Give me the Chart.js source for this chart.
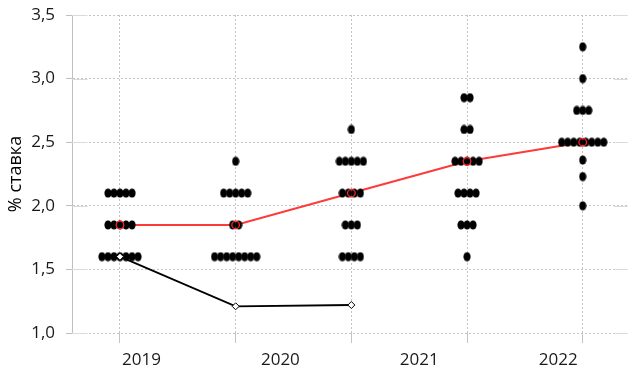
<!DOCTYPE html>
<html>
<head>
<meta charset="utf-8">
<script src="https://cdn.jsdelivr.net/npm/chart.js@4.4.1/dist/chart.umd.min.js"></script>
<style>
  body { margin: 0; background: #fff; }
</style>
</head>
<body>
<canvas id="dotPlot" width="633" height="377"></canvas>
<script>
// categories shown under the axis
const years = ['2019', '2020', '2021', '2022'];
// x positions of the dot columns
const columns = [1, 2, 3, 4, 5];
// rate levels and number of dots per level, one list per column
const dotRates = [
  [2.1, 1.85, 1.6],
  [2.35, 2.1, 1.85, 1.6],
  [2.6, 2.35, 2.1, 1.85, 1.6],
  [2.85, 2.6, 2.35, 2.1, 1.85, 1.6],
  [3.25, 3.0, 2.75, 2.5, 2.36, 2.23, 2.0]
];
const dotCounts = [
  [5, 5, 7],
  [1, 5, 2, 8],
  [1, 5, 4, 3, 4],
  [2, 2, 5, 4, 3, 1],
  [1, 1, 3, 8, 1, 1, 1]
];
// median line (red) and market line (black)
const medianRates = [1.85, 1.85, 2.1, 2.35, 2.5];
const marketRates = [1.6, 1.21, 1.22];

const dotGap = 0.052; // horizontal spread between dots on one level

const dots = [];
columns.forEach((c, i) => {
  dotRates[i].forEach((r, j) => {
    const n = dotCounts[i][j];
    for (let k = 0; k < n; k++) {
      dots.push({ x: c + (k - (n - 1) / 2) * dotGap, y: r });
    }
  });
});

// slightly tall black dot
function makeDot() {
  const c = document.createElement('canvas');
  c.width = 8; c.height = 10;
  const g = c.getContext('2d');
  g.fillStyle = '#000';
  g.beginPath();
  g.ellipse(4, 5, 3.6, 4.6, 0, 0, Math.PI * 2);
  g.fill();
  return c;
}

// solid light ends of the horizontal gridlines (the dotted part sits between)
const gridEnds = {
  id: 'gridEnds',
  beforeDatasetsDraw(chart) {
    const { ctx, chartArea: a, scales } = chart;
    const xl = scales.x.getPixelForValue(0.72);
    const xr = scales.x.getPixelForValue(5.27);
    ctx.save();
    ctx.strokeStyle = '#dadada';
    ctx.lineWidth = 1;
    scales.y.ticks.forEach(t => {
      const py = Math.round(scales.y.getPixelForValue(t.value)) + 0.5;
      ctx.beginPath();
      ctx.moveTo(a.left, py); ctx.lineTo(xl, py);
      ctx.moveTo(xr, py); ctx.lineTo(a.right, py);
      ctx.stroke();
    });
    ctx.restore();
  }
};

const fontName = "'Open Sans', sans-serif";

new Chart(document.getElementById('dotPlot'), {
  type: 'scatter',
  data: {
    datasets: [
      {
        data: marketRates.map((v, i) => ({ x: columns[i], y: v })),
        showLine: true,
        borderColor: '#000',
        borderWidth: 1.8,
        pointStyle: 'rectRot',
        pointRadius: 3.5,
        pointBackgroundColor: '#fff',
        pointBorderColor: '#000',
        pointBorderWidth: 1,
        order: 0
      },
      {
        data: medianRates.map((v, i) => ({ x: columns[i], y: v })),
        showLine: false,
        pointStyle: 'circle',
        pointRadius: 3.8,
        pointBackgroundColor: 'rgba(0,0,0,0)',
        pointBorderColor: '#ff2020',
        pointBorderWidth: 1.3,
        order: 1
      },
      {
        data: dots,
        pointStyle: makeDot(),
        order: 2
      },
      {
        data: medianRates.map((v, i) => ({ x: columns[i], y: v })),
        showLine: true,
        borderColor: '#ff3a3a',
        borderWidth: 2,
        pointRadius: 0,
        order: 3
      }
    ]
  },
  plugins: [gridEnds],
  options: {
    responsive: false,
    animation: false,
    events: [],
    layout: { padding: { left: 0, top: 15, right: 5, bottom: 0 } },
    plugins: {
      legend: { display: false },
      tooltip: { enabled: false }
    },
    scales: {
      x: {
        type: 'linear',
        min: 0.5853,
        max: 5.3888,
        afterBuildTicks: axis => { axis.ticks = columns.map(v => ({ value: v })); },
        afterFit: axis => { axis.height = 0; },
        ticks: { display: false },
        grid: { color: '#c4c4c4', drawTicks: true, tickLength: 10 },
        border: { display: false, dash: [2, 2] }
      },
      xc: {
        type: 'category',
        position: 'bottom',
        labels: years,
        offset: true,
        afterFit: axis => { axis.height = 44; },
        grid: { display: false },
        border: { display: false },
        ticks: { color: '#1a1a1a', padding: 9, font: { family: fontName, size: 17 } }
      },
      y: {
        min: 1,
        max: 3.5,
        afterFit: axis => {
          axis.width = 72;
          axis.paddingTop = 0;
          axis.paddingBottom = 0;
        },
        ticks: {
          stepSize: 0.5,
          color: '#1a1a1a',
          padding: 11,
          font: { family: fontName, size: 17 },
          callback: v => v.toFixed(1).replace('.', ',')
        },
        grid: {
          color: '#c4c4c4',
          drawTicks: true,
          tickLength: 6,
          tickColor: '#bfbfbf'
        },
        border: { display: true, color: '#bfbfbf', dash: [2, 2] },
        title: {
          display: true,
          text: '% ставка',
          color: '#000',
          padding: { top: 5, bottom: 0 },
          font: { family: fontName, size: 18 }
        }
      }
    }
  }
});
</script>
</body>
</html>
